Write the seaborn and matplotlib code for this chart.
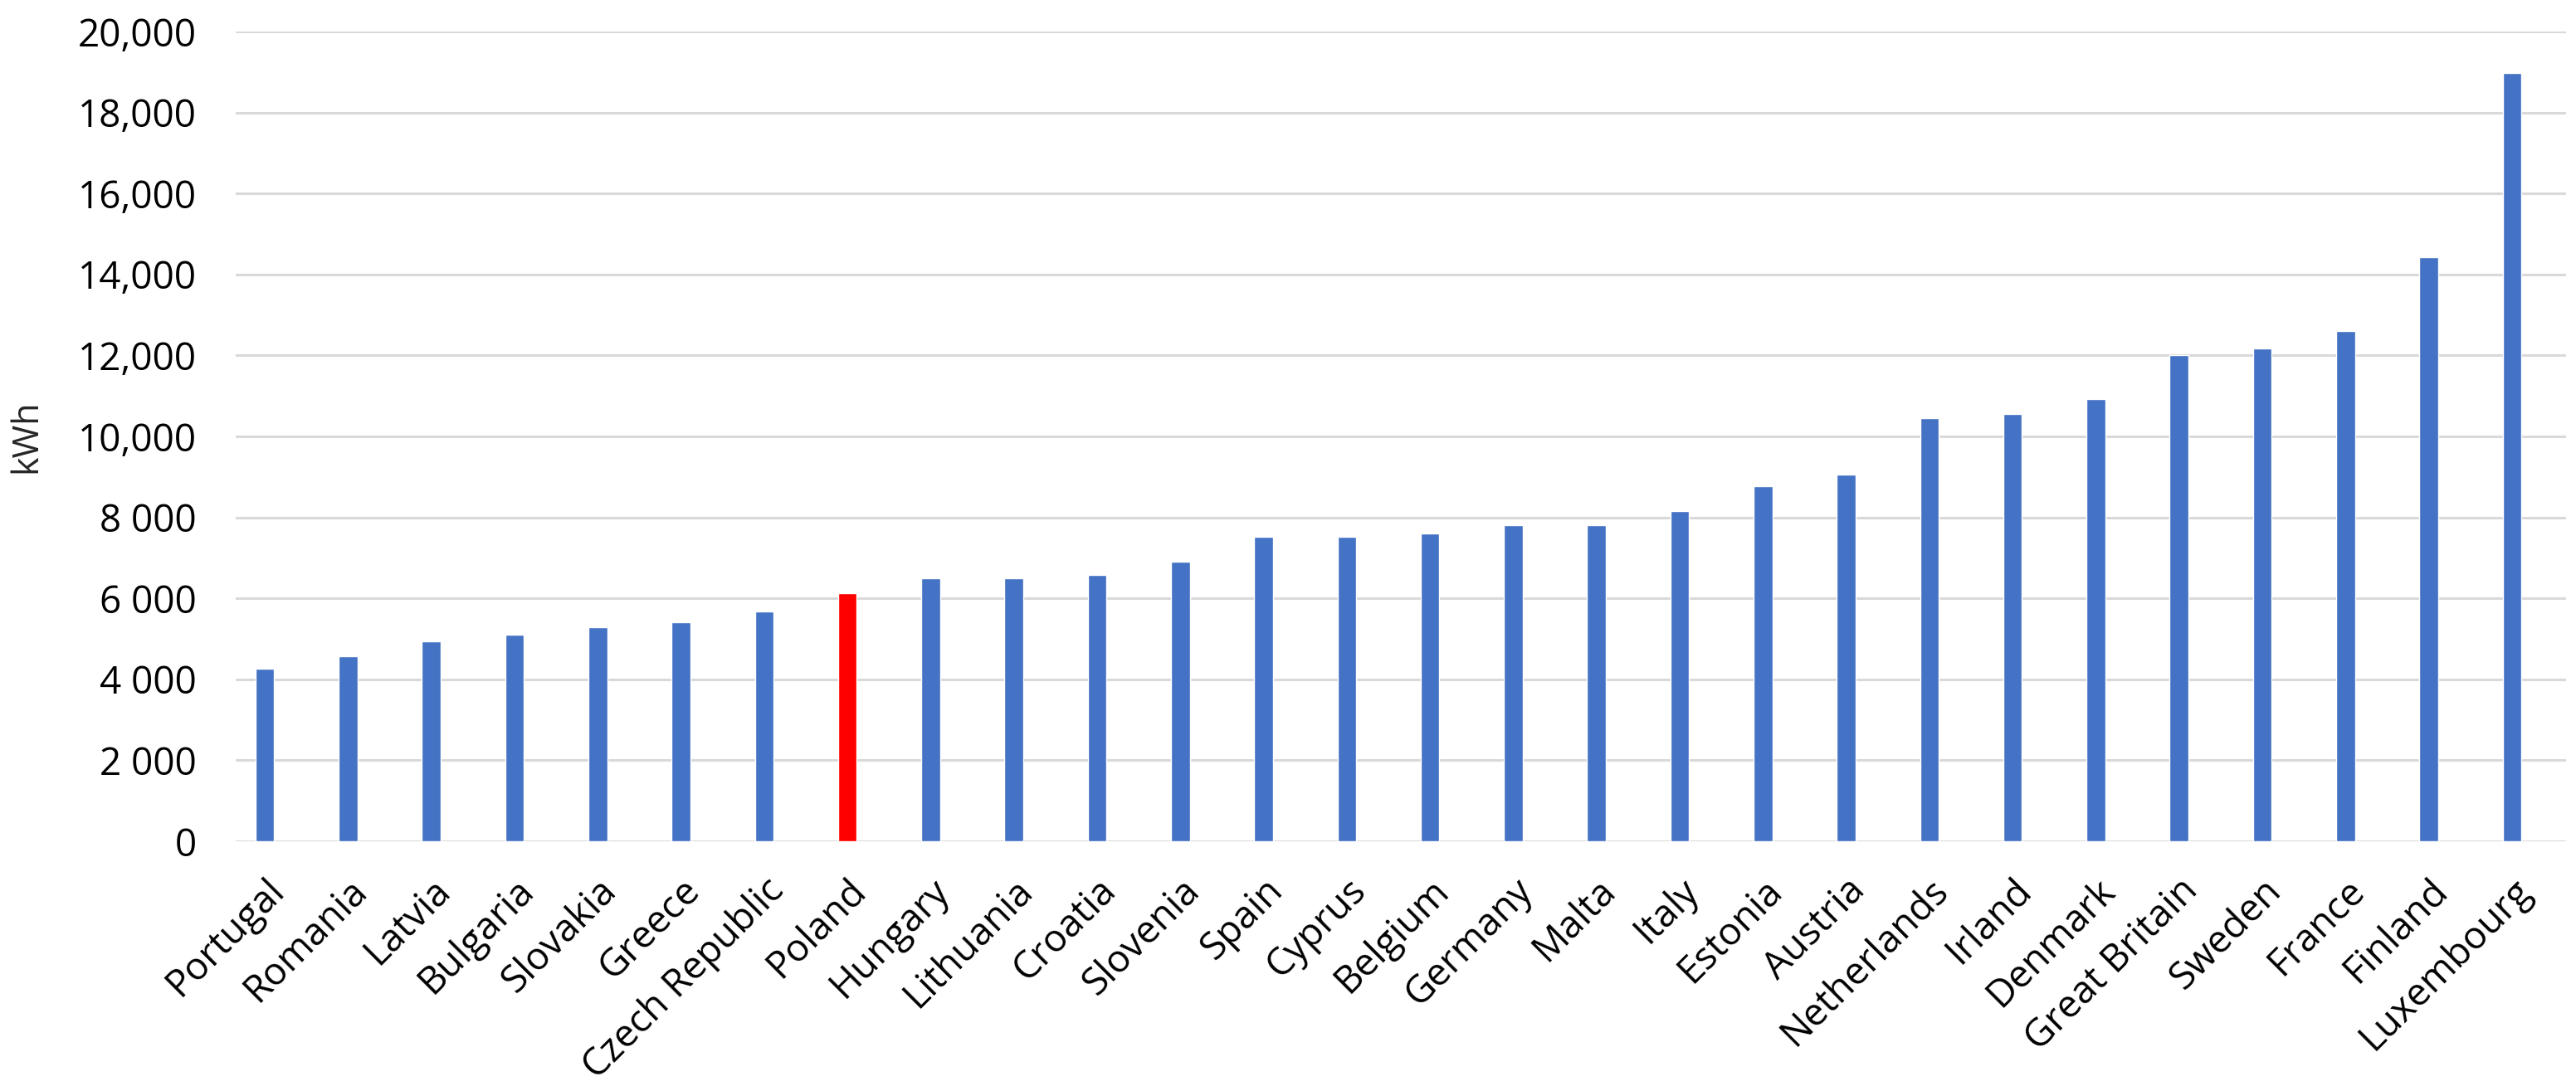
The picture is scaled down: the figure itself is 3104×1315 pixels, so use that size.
import matplotlib
matplotlib.use("Agg")
import matplotlib.pyplot as plt
import seaborn as sns
import pandas as pd

# Data
countries = ['Portugal', 'Romania', 'Latvia', 'Bulgaria', 'Slovakia', 'Greece',
             'Czech Republic', 'Poland', 'Hungary', 'Lithuania', 'Croatia',
             'Slovenia', 'Spain', 'Cyprus', 'Belgium', 'Germany', 'Malta',
             'Italy', 'Estonia', 'Austria', 'Netherlands', 'Irland', 'Denmark',
             'Great Britain', 'Sweden', 'France', 'Finland', 'Luxembourg']
kwh = [4270, 4560, 4940, 5100, 5280, 5400, 5680, 6120, 6500, 6500, 6570,
       6910, 7520, 7520, 7610, 7800, 7800, 8160, 8780, 9060, 10460, 10550,
       10920, 12000, 12180, 12600, 14430, 18980]
highlight = 'Poland'
y_ticks = [0, 2000, 4000, 6000, 8000, 10000, 12000, 14000, 16000, 18000, 20000]
y_tick_labels = ['0', '2 000', '4 000', '6 000', '8 000', '10,000', '12,000',
                 '14,000', '16,000', '18,000', '20,000']

df = pd.DataFrame({'Country': countries, 'kWh': kwh})
palette = {c: ('#FF0000' if c == highlight else '#4472C4') for c in countries}

sns.set_style("white")
plt.rcParams['font.family'] = ['Open Sans', 'DejaVu Sans']

fig = plt.figure(figsize=(31.04, 13.15), dpi=100)
ax = fig.add_axes([284 / 3104, 1 - 1014 / 1315, (3092 - 284) / 3104, (1014 - 38) / 1315])

sns.barplot(data=df, x='Country', y='kWh', hue='Country', palette=palette,
            legend=False, width=0.225, saturation=1, ax=ax, zorder=3)

ax.set_ylim(0, 20000)
ax.set_xlim(-0.35, 27.65)
ax.set_yticks(y_ticks)
ax.set_yticklabels(y_tick_labels)
ax.yaxis.grid(True, color='#D9D9D9', linewidth=2.2, zorder=0)
ax.set_axisbelow(True)
for s in ax.spines.values():
    s.set_visible(False)

ax.tick_params(axis='y', length=0, pad=34, labelsize=33, labelcolor='#000000')
ax.tick_params(axis='x', length=0, pad=26, labelsize=33, labelcolor='#000000')
plt.setp(ax.get_xticklabels(), rotation=45, ha='right', rotation_mode='anchor')

ax.set_xlabel('')
ax.set_ylabel('kWh', fontsize=31, labelpad=28)

fig.savefig('out.png', dpi=100, facecolor='white')
